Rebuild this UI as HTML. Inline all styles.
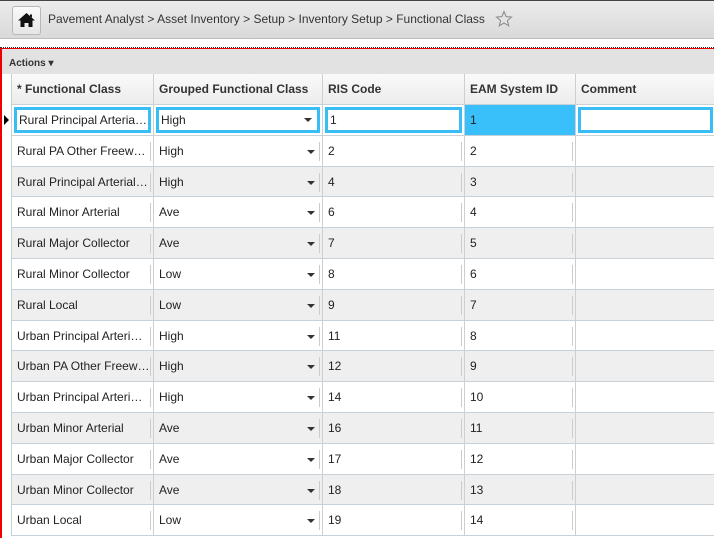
<!DOCTYPE html>
<html><head><meta charset="utf-8"><style>
*{box-sizing:border-box;margin:0;padding:0}
body{width:714px;height:538px;overflow:hidden;background:#fff;font-family:"Liberation Sans",Arial,sans-serif;position:relative;color:#222}
.top{position:absolute;left:0;top:0;width:714px;height:39px;background:linear-gradient(#ececec,#d9d9d9);border-bottom:1px solid #bdbdbd;border-top:1px solid #444}
.home{position:absolute;left:12px;top:5px;width:29px;height:29px;border:1px solid #b8b8b8;border-radius:3px;background:linear-gradient(#fafafa,#e6e6e6)}
.crumb{position:absolute;left:48px;top:11px;font-size:12px;color:#333}
.star{position:absolute;left:495px;top:9px}
.panel{position:absolute;left:0;top:48px;width:714px;height:490px;border-left:2px solid #e00;border-top:1px solid #e00}
.dots{position:absolute;left:0;top:47px;width:714px;height:1px;border-top:1px dotted #333}
.actions{position:absolute;left:2px;top:49px;width:712px;height:25px;background:#e2e2e2;font-size:10px;font-weight:bold;color:#333;padding:9px 0 0 7px}
.c{position:absolute;font-size:12px;white-space:nowrap;overflow:hidden;border-right:1px solid #c8d0d8;border-bottom:1px solid #c8d0d8;padding-left:5px}
.h{background:linear-gradient(#fafafa,#ececec);font-weight:bold;color:#333;height:31px;top:74px;line-height:31px}
.arrow{position:absolute;right:7px;top:14px;border-left:4px solid transparent;border-right:4px solid transparent;border-top:4px solid #333}
.sep{position:absolute;right:2px;top:6px;height:19px;border-right:1px solid #ccc}
</style></head><body>
<div class="top">
<div class="home"><svg width="27" height="27" viewBox="0 0 27 27"><path d="M13.5 6 L5 13.5 H7.5 V20 H11.5 V16 H15.5 V20 H19.5 V13.5 H22 Z M17 7.5 H19 V10.5 L17 9Z" fill="#111"/></svg></div>
<div class="crumb">Pavement Analyst &gt; Asset Inventory &gt; Setup &gt; Inventory Setup &gt; Functional Class</div>
<svg class="star" width="18" height="18" viewBox="0 0 18 18"><path d="M9 1.5 L11.1 6.6 L16.5 7 L12.4 10.5 L13.7 15.8 L9 13 L4.3 15.8 L5.6 10.5 L1.5 7 L6.9 6.6 Z" fill="none" stroke="#888" stroke-width="1"/></svg>
</div>
<div class="dots"></div>
<div class="panel"></div>
<div class="actions">Actions ▾</div>
<div class="c h" style="left:11px;width:143px;border-left:1px solid #c8d0d8">* Functional Class</div>
<div class="c h" style="left:154px;width:169px">Grouped Functional Class</div>
<div class="c h" style="left:323px;width:142px">RIS Code</div>
<div class="c h" style="left:465px;width:111px">EAM System ID</div>
<div class="c h" style="left:576px;width:140px">Comment</div>
<div id="rows"></div>
<script>
var d=[["Rural Principal Arteria…","High",1,1],["Rural PA Other Freew…","High",2,2],["Rural Principal Arterial…","High",4,3],["Rural Minor Arterial","Ave",6,4],["Rural Major Collector","Ave",7,5],["Rural Minor Collector","Low",8,6],["Rural Local","Low",9,7],["Urban Principal Arteri…","High",11,8],["Urban PA Other Freew…","High",12,9],["Urban Principal Arteri…","High",14,10],["Urban Minor Arterial","Ave",16,11],["Urban Major Collector","Ave",17,12],["Urban Minor Collector","Ave",18,13],["Urban Local","Low",19,14]];
var cols=[[11,143],[154,169],[323,142],[465,111],[576,140]];
var h="";
for(var i=0;i<d.length;i++){
 var t=105+i*30.8,bg=(i%2==0&&i>0)?"#efefef":"#fff",r=d[i];
 var vals=[r[0],r[1],r[2],r[3],""];
 for(var j=0;j<5;j++){
  var s="left:"+cols[j][0]+"px;width:"+cols[j][1]+"px;top:"+t+"px;height:30.8px;line-height:30px;background:"+bg+";";
  if(j==0)s+="border-left:1px solid #c8d0d8;";
  var inner=vals[j];
  if(i==0&&j!=3){s+="padding:2px;";inner='<div style="height:100%;border:3px solid #39bdf5;background:#fff;line-height:21px;padding-left:2px">'+vals[j]+(j==1?'<span class="arrow" style="top:13px;right:10px"></span>':'')+'</div>';}
  else if(i==0&&j==3){s+="background:#39bff9;";}
  else if(j==1){inner+='<span class="arrow"></span><span class="sep"></span>';}
  else if(j<4){inner+='<span class="sep"></span>';}
  h+='<div class="c" style="'+s+'">'+inner+'</div>';
 }
}
h+='<div style="position:absolute;left:4px;top:115px;border-top:5px solid transparent;border-bottom:5px solid transparent;border-left:5px solid #000"></div>';
document.getElementById("rows").innerHTML=h;
</script>
</body></html>
